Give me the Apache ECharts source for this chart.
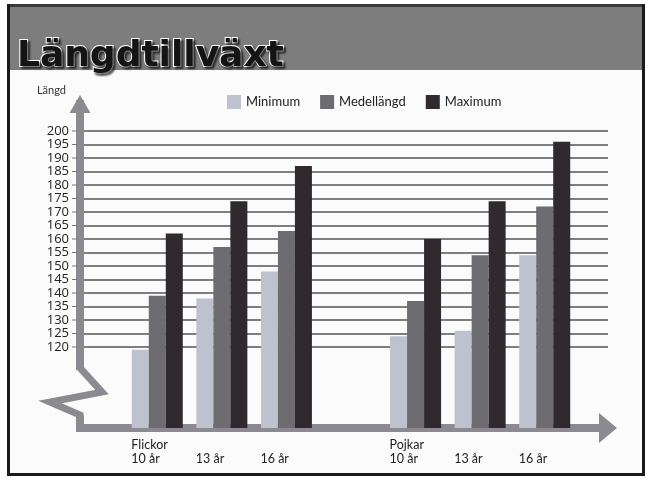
<!DOCTYPE html>
<html>
<head>
<meta charset="utf-8">
<script src="https://cdn.jsdelivr.net/npm/echarts@6/dist/echarts.min.js"></script>
<style>
  html, body { margin: 0; padding: 0; background: #fff; }
  #chart { width: 648px; height: 484px; }
</style>
</head>
<body>
<div id="chart"></div>
<script>
// data
var categories = ['Flickor\n10 år', '13 år', '16 år', '', 'Pojkar\n10 år', '13 år', '16 år'];
var seriesNames = ['Minimum', 'Medellängd', 'Maximum'];
var minimum = [119, 138, 148, null, 124, 126, 154];
var medellangd = [139, 157, 163, null, 137, 154, 172];
var maximum = [162, 174, 187, null, 160, 174, 196];
var tickFirst = 120;
var tickLast = 200;
var tickStep = 5;

var colors = ['#bec1ce', '#6c6c71', '#2e2a2e'];
var axisGray = '#8a8a90';
var yMin = 90, yMax = 210;
var axisLeft = 80;

var chartDom = document.getElementById('chart');
var myChart = echarts.init(chartDom);

// gridline colours: only 120..200 are drawn (min/max lines are skipped)
var gridColors = [];
for (var v = yMin + tickStep; v < yMax; v += tickStep) {
  gridColors.push(v >= tickFirst && v <= tickLast ? '#555558' : 'rgba(0,0,0,0)');
}

var option = {
  backgroundColor: '#fbfbfb',
  animation: false,
  title: {
    text: 'Längdtillväxt',
    left: 12,
    top: 34,
    textStyle: {
      fontFamily: 'DejaVu Sans',
      fontSize: 36,
      fontWeight: 'bold',
      color: '#141414',
      textBorderColor: '#ffffff',
      textBorderWidth: 2,
      textShadowColor: 'rgba(0,0,0,0.55)',
      textShadowOffsetX: 2,
      textShadowOffsetY: 2,
      textShadowBlur: 2
    },
    z: 20
  },
  legend: {
    left: 222,
    top: 90,
    itemWidth: 14,
    itemHeight: 14,
    itemGap: 20,
    icon: 'rect',
    data: seriesNames,
    textStyle: { fontFamily: 'Lato', fontSize: 13, color: '#222' }
  },
  grid: [
    // axes + gridlines
    { left: axisLeft, right: 40, top: 104, bottom: 56 },
    // bars
    { left: 125, right: 71, top: 104, bottom: 56 }
  ],
  xAxis: [
    {
      gridIndex: 0,
      type: 'value',
      min: 0,
      max: 1,
      axisLine: {
        show: true,
        onZero: false,
        symbol: ['none', 'triangle'],
        symbolSize: [30, 18],
        lineStyle: { color: axisGray, width: 8, cap: 'square' }
      },
      axisTick: { show: false },
      axisLabel: { show: false },
      splitLine: { show: false }
    },
    {
      gridIndex: 1,
      type: 'category',
      data: categories,
      axisLine: { show: false },
      axisTick: { show: false },
      axisLabel: {
        interval: 0,
        margin: 10,
        formatter: function (val) {
          var parts = val.split('\n');
          if (parts.length === 1) parts.unshift(' ');
          return parts.map(function (p) { return '{l|' + p + '}'; }).join('\n');
        },
        rich: {
          l: { width: 52, align: 'left', fontFamily: 'Lato', fontSize: 12.5, lineHeight: 14, color: '#222' }
        }
      },
      splitLine: { show: false }
    }
  ],
  yAxis: [
    {
      gridIndex: 0,
      type: 'value',
      min: yMin,
      max: yMax,
      interval: tickStep,
      name: 'Längd',
      nameLocation: 'end',
      nameGap: 8,
      nameTextStyle: { fontFamily: 'Lato', fontSize: 11, color: '#333', align: 'right', padding: [0, 14, 0, 0] },
      axisLine: {
        show: true,
        onZero: false,
        symbol: ['none', 'triangle'],
        symbolSize: [21, 18],
        lineStyle: { color: axisGray, width: 8, cap: 'square' }
      },
      axisTick: { show: false },
      axisLabel: {
        margin: 3,
        formatter: function (val) {
          if (val < tickFirst || val > tickLast) return '';
          return '{n|' + val + '}{s|}{t|}';
        },
        rich: {
          n: { fontFamily: 'Open Sans', fontSize: 13, color: '#222' },
          s: { width: 3, height: 1 },
          t: { width: 5, height: 1, backgroundColor: '#777' }
        }
      },
      splitLine: {
        show: true,
        showMinLine: false,
        showMaxLine: false,
        lineStyle: { color: gridColors, width: 1.5 }
      }
    },
    {
      gridIndex: 1,
      type: 'value',
      min: yMin,
      max: yMax,
      show: false,
      splitLine: { show: false }
    }
  ],
  series: [
    { name: seriesNames[0], type: 'bar', xAxisIndex: 1, yAxisIndex: 1, data: minimum, barWidth: 17, barGap: '0%', itemStyle: { color: colors[0] } },
    { name: seriesNames[1], type: 'bar', xAxisIndex: 1, yAxisIndex: 1, data: medellangd, barWidth: 17, barGap: '0%', itemStyle: { color: colors[1] } },
    { name: seriesNames[2], type: 'bar', xAxisIndex: 1, yAxisIndex: 1, data: maximum, barWidth: 17, barGap: '0%', itemStyle: { color: colors[2] } }
  ]
};

option && myChart.setOption(option);

// slide decoration + broken-axis zigzag, anchored to the y axis
var py = function (val) {
  var r = myChart.convertToPixel({ yAxisIndex: 0 }, val);
  if (r == null || isNaN(r)) r = 104 + (yMax - val) * (324 / (yMax - yMin));
  return r;
};
var y0 = py(111.5), y1 = py(103.3), y2 = py(99.6), y3 = py(94.8);
var ax = axisLeft;

myChart.setOption({
  graphic: [
    { type: 'rect', z: 1, silent: true, shape: { x: 8, y: 4, width: 640, height: 66 }, style: { fill: '#7d7d7d' } },
    { type: 'rect', z: 2, silent: true, shape: { x: 8, y: 4, width: 640, height: 3 }, style: { fill: '#3a3a3a' } },
    { type: 'rect', z: 2, silent: true, shape: { x: 7, y: 4, width: 3, height: 473 }, style: { fill: '#1a1a1a' } },
    { type: 'rect', z: 2, silent: true, shape: { x: 642, y: 4, width: 3, height: 473 }, style: { fill: '#1a1a1a' } },
    { type: 'rect', z: 2, silent: true, shape: { x: 7, y: 473, width: 638, height: 3 }, style: { fill: '#1a1a1a' } },
    { type: 'rect', z: 2, silent: true, shape: { x: 645, y: 0, width: 3, height: 484 }, style: { fill: '#ffffff' } },
    { type: 'rect', z: 2, silent: true, shape: { x: 0, y: 476, width: 648, height: 8 }, style: { fill: '#ffffff' } },
    { type: 'rect', z: 2, silent: true, shape: { x: 0, y: 0, width: 7, height: 484 }, style: { fill: '#ffffff' } },
    { type: 'rect', z: 2, silent: true, shape: { x: 0, y: 0, width: 648, height: 4 }, style: { fill: '#ffffff' } },
    { type: 'rect', z: 100, silent: true, shape: { x: ax - 6, y: y0, width: 12, height: y3 - y0 }, style: { fill: '#fbfbfb' } },
    {
      type: 'polyline', z: 101, silent: true,
      shape: { points: [[ax, y0 - 2], [ax + 22, y1], [ax - 30, y2], [ax, y3], [ax, y3 + 2]] },
      style: { stroke: axisGray, lineWidth: 7, fill: 'none', lineJoin: 'miter' }
    }
  ]
});
</script>
</body>
</html>
